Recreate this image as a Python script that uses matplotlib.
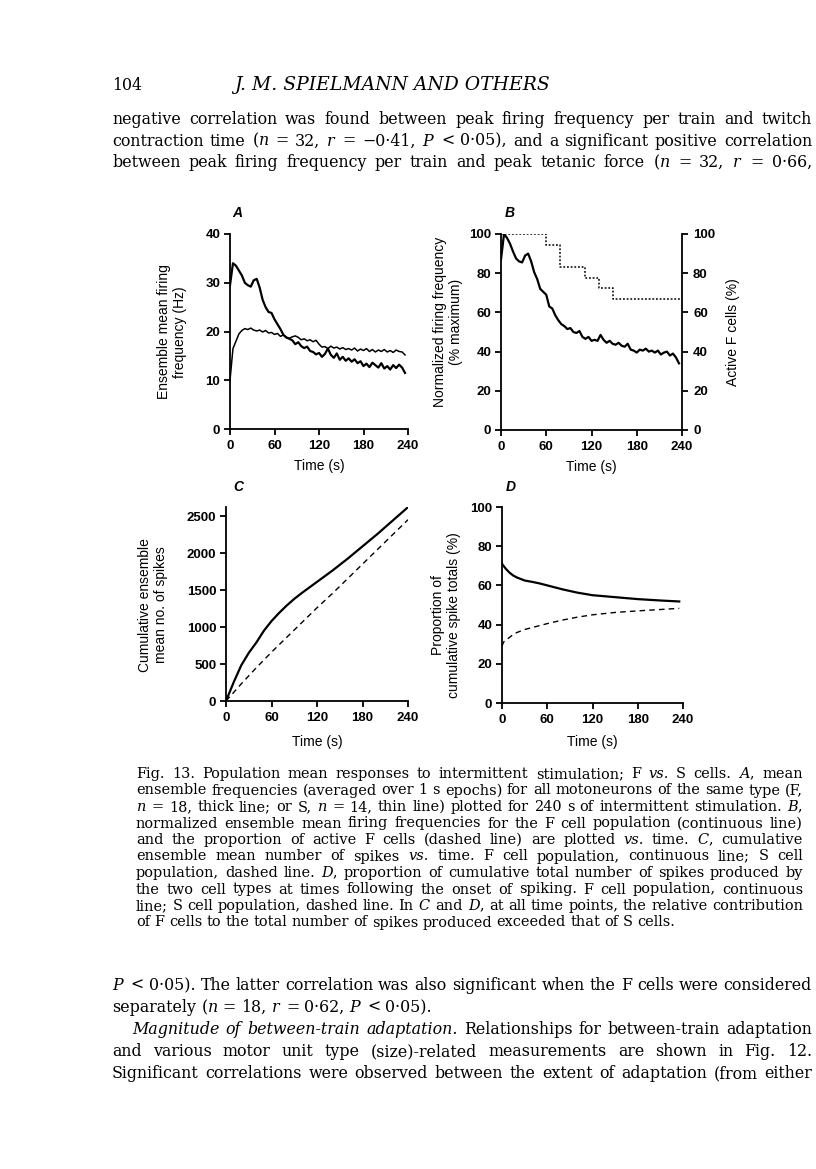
import numpy as np
import matplotlib
matplotlib.use('Agg')
import matplotlib.pyplot as plt

plt.rcParams['mathtext.fontset'] = 'dejavuserif'

W, H = 816, 1169
SANS = 'Liberation Sans'
SERIF = 'DejaVu Serif'

# ---- data ----
t_a = np.arange(0, 240, 4)
f_rate = [29.5, 34.0, 33.5, 32.5, 31.5, 30.0, 29.5, 29.2, 30.5, 30.8,
          29.0, 26.5, 25.0, 24.0, 23.8, 22.5, 21.5, 20.5, 19.3, 18.8,
          18.5, 18.2, 17.4, 17.8, 17.0, 16.6, 16.9, 16.0, 15.8, 15.3,
          15.6, 14.8, 15.4, 16.5, 15.2, 14.6, 15.5, 14.2, 14.8, 14.0,
          14.5, 13.8, 14.3, 13.5, 13.9, 12.9, 13.4, 12.7, 13.6, 13.1,
          12.6, 13.5, 12.4, 12.9, 12.2, 13.1, 12.5, 13.2, 12.6, 11.5]
s_rate = [10.0, 16.5, 18.0, 19.5, 20.2, 20.6, 20.4, 20.7, 20.3, 20.1,
          20.3, 19.9, 20.2, 19.7, 19.8, 19.4, 19.6, 19.0, 19.3, 18.7,
          18.6, 18.9, 19.1, 18.8, 18.3, 18.5, 18.1, 18.3, 17.9, 18.2,
          17.4, 16.8, 16.9, 16.5, 17.0, 16.6, 16.8, 16.4, 16.7, 16.3,
          16.5, 16.2, 16.6, 16.0, 16.4, 16.1, 16.5, 15.9, 16.3, 15.8,
          16.2, 15.9, 16.3, 15.8, 16.1, 15.7, 16.2, 15.9, 15.8, 15.2]
f_norm = [87.0, 100.0, 98.0, 95.0, 91.0, 87.5, 86.0, 85.5, 89.0, 90.0,
          86.0, 80.5, 77.0, 72.0, 70.5, 69.0, 63.0, 62.0, 58.5, 56.0,
          54.0, 53.0, 51.5, 52.0, 50.0, 49.5, 50.5, 47.5, 46.5, 47.5,
          45.5, 46.0, 45.5, 48.5, 46.0, 44.5, 45.5, 44.0, 43.5, 44.5,
          43.0, 42.5, 44.0, 41.0, 40.5, 39.5, 41.0, 40.5, 41.5, 40.0,
          40.5, 39.5, 40.5, 38.5, 39.5, 40.0, 38.0, 39.0, 37.0, 34.0]
active_t = [0, 60, 78, 112, 130, 149, 239]
active_pct = [100.0, 94.4, 83.3, 77.8, 72.2, 66.7, 66.7]

cum_t = [0, 10, 20, 30, 40, 50, 60, 70, 80, 90, 100, 120, 140, 160, 180, 200, 220, 240]
cum_f = [0, 250, 480, 650, 790, 950, 1080, 1190, 1290, 1380, 1460, 1610, 1760, 1920,
         2090, 2260, 2440, 2620]
cum_s = [0, 115, 230, 340, 450, 555, 660, 760, 860, 960, 1060, 1260, 1450, 1650,
         1850, 2050, 2250, 2450]

prop_t = [0, 2, 5, 10, 15, 20, 30, 40, 50, 60, 80, 100, 120, 150, 180, 210, 235]
prop_f = [71.0, 70.0, 68.5, 66.5, 65.0, 64.0, 62.5, 61.8, 61.0, 60.0, 58.0, 56.3,
          55.0, 54.0, 53.0, 52.3, 51.8]
prop_s = [29.0, 31.0, 32.0, 33.5, 35.0, 36.0, 37.5, 38.5, 39.5, 40.5, 42.3, 43.8,
          45.0, 46.2, 47.0, 47.7, 48.3]

time_ticks = [0, 60, 120, 180, 240]

# ---- page text ----
body_top = [
    "negative correlation was found between peak firing frequency per train and twitch",
    "contraction time ($n$ = 32, $r$ = \u22120\u00b741, $P$ < 0\u00b705), and a significant positive correlation",
    "between peak firing frequency per train and peak tetanic force ($n$ = 32, $r$ = 0\u00b766,",
]
caption = [
    "Fig. 13. Population mean responses to intermittent stimulation; F *vs. S cells. $A$, mean",
    "ensemble frequencies (averaged over 1 s epochs) for all motoneurons of the same type (F,",
    "$n$ = 18, thick line; or S, $n$ = 14, thin line) plotted for 240 s of intermittent stimulation. $B$,",
    "normalized ensemble mean firing frequencies for the F cell population (continuous line)",
    "and the proportion of active F cells (dashed line) are plotted *vs. time. $C$, cumulative",
    "ensemble mean number of spikes *vs. time. F cell population, continuous line; S cell",
    "population, dashed line. $D$, proportion of cumulative total number of spikes produced by",
    "the two cell types at times following the onset of spiking. F cell population, continuous",
    "line; S cell population, dashed line. In $C$ and $D$, at all time points, the relative contribution",
    "of F cells to the total number of spikes produced exceeded that of S cells.",
]
body_bottom = [
    "$P$ < 0\u00b705). The latter correlation was also significant when the F cells were considered",
    "separately ($n$ = 18, $r$ = 0\u00b762, $P$ < 0\u00b705).",
    "*Magnitude *of *between-train *adaptation. Relationships for between-train adaptation",
    "and various motor unit type (size)-related measurements are shown in Fig. 12.",
    "Significant correlations were observed between the extent of adaptation (from either",
]

fig = plt.figure(figsize=(W / 100, H / 100), dpi=100)
renderer = fig.canvas.get_renderer()


def word_artists(line, size, y):
    arts = []
    for w in line.split():
        style = 'normal'
        if w.startswith('*'):
            w, style = w[1:], 'italic'
        arts.append(fig.text(0, 1 - y / H, w, fontsize=size, family=SERIF,
                             style=style, va='baseline', ha='left'))
    return arts


def natural_width(line, size):
    arts = word_artists(line, size, 0)
    width = sum(a.get_window_extent(renderer).width for a in arts)
    width += (len(arts) - 1) * 0.3 * size * 100 / 72
    for a in arts:
        a.remove()
    return width


def fit_size(lines, width, trial=10.0):
    return trial * width / max(natural_width(ln, trial) for ln in lines)


def put_line(line, x0, x1, y, size, justify=True):
    arts = word_artists(line, size, y)
    widths = [a.get_window_extent(renderer).width for a in arts]
    if justify and len(arts) > 1:
        gap = (x1 - x0 - sum(widths)) / (len(arts) - 1)
    else:
        gap = 0.3 * size * 100 / 72
    x = x0
    for a, w in zip(arts, widths):
        a.set_x(x / W)
        x += w + gap


body_size = min(fit_size(body_top + [body_bottom[0], body_bottom[3]], 700),
                fit_size([body_bottom[2]], 680))
cap_size = fit_size(caption[:-1], 667)

# header
fig.text(112 / W, 1 - 90 / H, "104", fontsize=body_size, family=SERIF, va='baseline')
fig.text(392 / W, 1 - 90 / H, "J. M. SPIELMANN AND OTHERS", fontsize=body_size * 1.18,
         family=SERIF, style='italic', ha='center', va='baseline')

for i, ln in enumerate(body_top):
    put_line(ln, 112, 812, 124 + i * 21.5, body_size)
for i, ln in enumerate(caption):
    put_line(ln, 136, 803, 778 + i * 16.5, cap_size, justify=(i < len(caption) - 1))
for i, ln in enumerate(body_bottom):
    x0 = 132 if i == 2 else 112
    put_line(ln, x0, 812, 990 + i * 22, body_size, justify=(i != 1))


# ---- panels ----
def make_axes(left, top, right, bottom):
    return fig.add_axes([left / W, 1 - bottom / H, (right - left) / W, (bottom - top) / H])


def style(ax):
    for side in ['top', 'right']:
        ax.spines[side].set_visible(False)
    for side in ['left', 'bottom']:
        ax.spines[side].set_linewidth(1.3)
    ax.tick_params(direction='out', length=4, width=1.3, labelsize=9.5)
    ax.tick_params(axis='x', pad=4)
    ax.tick_params(axis='y', pad=3)
    ax.set_xlim(0, 240)
    ax.set_xticks(time_ticks)
    for lab in ax.get_xticklabels() + ax.get_yticklabels():
        lab.set_family(SANS)
        lab.set_fontweight('bold')


def side_label(x, y, txt):
    fig.text(x / W, 1 - y / H, txt, rotation=90, ha='center', va='center',
             multialignment='center', fontsize=10, family=SANS, linespacing=1.2)


def panel_letter(x, y, txt):
    fig.text(x / W, 1 - y / H, txt, ha='center', va='center', fontsize=10,
             family=SANS, style='italic', fontweight='bold')


# A
axA = make_axes(230, 234, 408, 429)
axA.plot(t_a, f_rate, color='black', lw=1.6)
axA.plot(t_a, s_rate, color='black', lw=1.1)
axA.set_ylim(0, 40)
axA.set_yticks([0, 10, 20, 30, 40])
style(axA)
side_label(172, 332, "Ensemble mean firing\nfrequency (Hz)")
panel_letter(237, 213, "A")

# B
axB = make_axes(501, 234, 682, 430)
axB.plot(t_a, f_norm, color='black', lw=1.6)
axB.plot(active_t, active_pct, color='black', lw=1.1, ls=(0, (1.2, 1.2)),
         drawstyle='steps-post')
axB.set_ylim(0, 100)
axB.set_yticks([0, 20, 40, 60, 80, 100])
style(axB)
axB2 = axB.twinx()
axB2.set_ylim(0, 100)
axB2.set_yticks([0, 20, 40, 60, 80, 100])
for side in ['top', 'left', 'bottom']:
    axB2.spines[side].set_visible(False)
axB2.spines['right'].set_linewidth(1.3)
axB2.tick_params(direction='out', length=4, width=1.3, labelsize=9.5, pad=4)
for lab in axB2.get_yticklabels():
    lab.set_family(SANS)
    lab.set_fontweight('bold')
side_label(448, 322, "Normalized firing frequency\n(% maximum)")
side_label(733, 332, "Active F cells (%)")
panel_letter(510, 213, "B")

# C
axC = make_axes(226, 507, 408, 701)
axC.plot(cum_t, cum_f, color='black', lw=1.6)
axC.plot(cum_t, cum_s, color='black', lw=1.0, ls=(0, (4, 3)))
axC.set_ylim(0, 2622)
axC.set_yticks([0, 500, 1000, 1500, 2000, 2500])
style(axC)
side_label(153, 605, "Cumulative ensemble\nmean no. of spikes")
panel_letter(238, 487, "C")

# D
axD = make_axes(502, 507, 683, 703)
axD.plot(prop_t, prop_f, color='black', lw=1.6)
axD.plot(prop_t, prop_s, color='black', lw=1.0, ls=(0, (4, 3)))
axD.set_ylim(0, 100)
axD.set_yticks([0, 20, 40, 60, 80, 100])
style(axD)
side_label(446, 615, "Proportion of\ncumulative spike totals (%)")
panel_letter(511, 487, "D")

for ax, cx, y in [(axA, 319, 466), (axB, 591, 467), (axC, 317, 742), (axD, 592, 742)]:
    fig.text(cx / W, 1 - y / H, "Time (s)", ha='center', va='center', fontsize=10, family=SANS)

fig.savefig('out.png', dpi=100)
